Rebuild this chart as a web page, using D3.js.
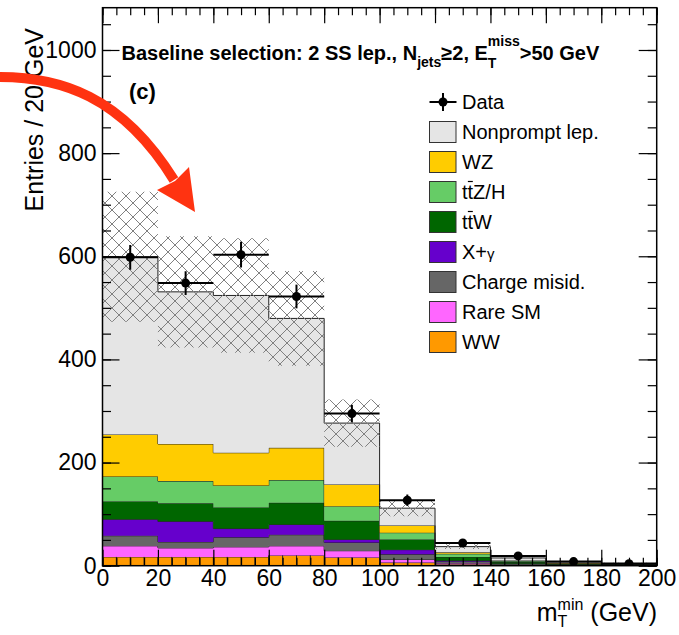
<!DOCTYPE html>
<html>
<head>
<meta charset="utf-8">
<script src="https://cdn.jsdelivr.net/npm/d3@7/dist/d3.min.js"></script>
<style>
  body { margin: 0; background: #fff; }
  svg { display: block; }
  text { font-family: "Liberation Sans", Arial, Helvetica, sans-serif; fill: #000; }
</style>
</head>
<body>
<div id="chart"></div>
<script>
// bin edges of m_T^min (GeV)
const edges = [0, 20, 40, 60, 80, 100, 120, 140, 160, 180, 200]

// stacked backgrounds, bottom to top (entries per bin)
const ww        = [17, 17, 17, 20, 16, 6, 3, 1.5, 1, 0.7]
const rareSM    = [21.5, 17.5, 19.5, 18.5, 13, 6, 2, 1, 0.5, 0.3]
const qmisid    = [19.5, 11.5, 18.5, 21.5, 16, 10, 3, 1.5, 0.5, 0.5]
const xGamma    = [32, 40, 17, 20, 6, 9, 2, 0.5, 0.3, 0.2]
const ttW       = [34.5, 35, 41, 42, 36, 20, 7, 2.5, 1, 0.8]
const ttZH      = [48.5, 43, 42.5, 44, 28.5, 13, 6, 2, 1, 0.6]
const wz        = [81.5, 72, 63.5, 62.5, 42, 14, 3, 1, 0.7, 0.4]
const nonprompt = [344.5, 295, 305, 251, 119, 33.5, 11, 5, 2, 1.5]

// total background uncertainty (+/-)
const totErr = [126, 108, 111, 92, 46, 15.5, 4.5, 2, 1, 1]

// observed data and its error
const dataVals = [598, 548, 603, 522, 295, 127, 44, 19, 8, 4]
const dataErr  = [24, 23, 25, 23, 17, 11, 7, 4, 3, 2]

const yTicks = [0, 200, 400, 600, 800, 1000]
const xTicks = [0, 20, 40, 60, 80, 100, 120, 140, 160, 180, 200]

const procKeys   = ['WW', 'Rare SM', 'Charge misid.', 'X+γ', 'ttW', 'ttZ/H', 'WZ', 'Nonprompt lep.']
const procVals   = [ww, rareSM, qmisid, xGamma, ttW, ttZH, wz, nonprompt]
const procColors = ['#ff9900', '#ff66ff', '#666666', '#6600cc', '#006600', '#66cc66', '#ffcc00', '#e5e5e5']

const legendKeys = ['Nonprompt lep.', 'WZ', 'ttZ/H', 'ttW', 'X+γ', 'Charge misid.', 'Rare SM', 'WW']

const W = 679, H = 635
const svg = d3.select('#chart').append('svg').attr('width', W).attr('height', H)

const x = d3.scaleLinear().domain([0, 200]).range([102.5, 656.7])
const y = d3.scaleLinear().domain([0, 1082]).range([565.7, 7.7])

const defs = svg.append('defs')
defs.append('clipPath').attr('id', 'plotclip')
  .append('rect').attr('x', x(0)).attr('y', y(1082)).attr('width', x(200) - x(0)).attr('height', y(0) - y(1082))

const hp = 14
const pat = defs.append('pattern').attr('id', 'hatch').attr('patternUnits', 'userSpaceOnUse')
  .attr('width', hp).attr('height', hp)
pat.append('path').attr('d', `M0,0L${hp},${hp}M${hp},0L0,${hp}M-1,${hp - 1}L1,${hp + 1}M${hp - 1},-1L${hp + 1},1M-1,1L1,-1M${hp - 1},${hp + 1}L${hp + 1},${hp - 1}`)
  .attr('stroke', '#808080').attr('stroke-width', 1).attr('fill', 'none')

// table for the stack
const rows = edges.slice(0, -1).map((e, i) => {
  const r = { lo: e, hi: edges[i + 1] }
  procKeys.forEach((k, j) => { r[k] = procVals[j][i] })
  return r
})
const stacked = d3.stack().keys(procKeys)(rows)

function steps(lo, hi) {
  const pts = []
  rows.forEach((r, i) => {
    pts.push({ x: r.lo, y0: lo[i], y1: hi[i] })
    pts.push({ x: r.hi, y0: lo[i], y1: hi[i] })
  })
  return pts
}
const area = d3.area().x(d => x(d.x)).y0(d => y(d.y0)).y1(d => y(d.y1))
const topLine = d3.line().x(d => x(d.x)).y(d => y(d.y1))

const plot = svg.append('g').attr('clip-path', 'url(#plotclip)')

stacked.forEach((s, j) => {
  const pts = steps(s.map(d => d[0]), s.map(d => d[1]))
  plot.append('path').attr('d', area(pts)).attr('fill', procColors[j])
  plot.append('path').attr('d', topLine(pts)).attr('fill', 'none')
    .attr('stroke', '#222').attr('stroke-width', 1)
})

// WW drawn in finer cells
const wwTop = stacked[0]
plot.append('g').selectAll('line').data(x.ticks(40).filter(v => v > 0 && v < 200)).join('line')
  .attr('x1', v => x(v)).attr('x2', v => x(v))
  .attr('y1', y(0))
  .attr('y2', v => y(wwTop[Math.min(9, Math.floor(v / 20))][1]))
  .attr('stroke', '#222').attr('stroke-width', 1)

// uncertainty band
const totals = stacked[stacked.length - 1].map(d => d[1])
plot.append('path')
  .attr('d', area(steps(totals.map((t, i) => t - totErr[i]), totals.map((t, i) => t + totErr[i]))))
  .attr('fill', 'url(#hatch)')

// data points
const dg = plot.append('g')
rows.forEach((r, i) => {
  const cx = x((r.lo + r.hi) / 2), cy = y(dataVals[i])
  dg.append('line').attr('x1', x(r.lo)).attr('x2', x(r.hi)).attr('y1', cy).attr('y2', cy)
    .attr('stroke', '#000').attr('stroke-width', 2)
  dg.append('line').attr('x1', cx).attr('x2', cx)
    .attr('y1', y(dataVals[i] - dataErr[i])).attr('y2', y(dataVals[i] + dataErr[i]))
    .attr('stroke', '#000').attr('stroke-width', 2)
  dg.append('circle').attr('cx', cx).attr('cy', cy).attr('r', 4.5).attr('fill', '#000')
})

// axes, ROOT style ticks pointing inwards
function styleAxis(g) {
  g.select('.domain').remove()
  g.selectAll('line').attr('stroke', '#000').attr('stroke-width', 1.2)
  g.selectAll('text').attr('font-size', 23).attr('fill', '#000')
    .attr('font-family', '"Liberation Sans", Arial, Helvetica, sans-serif')
}
const minorY = y.ticks(20), minorX = x.ticks(40)

svg.append('g').attr('transform', `translate(${x(0)},0)`)
  .call(d3.axisLeft(y).tickValues(minorY).tickSize(-8.5).tickFormat('')).call(styleAxis)
svg.append('g').attr('transform', `translate(${x(0)},0)`)
  .call(d3.axisLeft(y).tickValues(yTicks).tickSize(-17).tickPadding(6).tickFormat(d3.format('d'))).call(styleAxis)
svg.append('g').attr('transform', `translate(${x(200)},0)`)
  .call(d3.axisRight(y).tickValues(minorY).tickSize(-9).tickFormat('')).call(styleAxis)
svg.append('g').attr('transform', `translate(${x(200)},0)`)
  .call(d3.axisRight(y).tickValues(yTicks).tickSize(-18).tickFormat('')).call(styleAxis)

svg.append('g').attr('transform', `translate(0,${y(0)})`)
  .call(d3.axisBottom(x).tickValues(minorX).tickSize(-8).tickFormat('')).call(styleAxis)
svg.append('g').attr('transform', `translate(0,${y(0)})`)
  .call(d3.axisBottom(x).tickValues(xTicks).tickSize(-16).tickPadding(4).tickFormat(d3.format('d'))).call(styleAxis)
svg.append('g').attr('transform', `translate(0,${y(1082)})`)
  .call(d3.axisTop(x).tickValues(minorX).tickSize(-7.5).tickFormat('')).call(styleAxis)
svg.append('g').attr('transform', `translate(0,${y(1082)})`)
  .call(d3.axisTop(x).tickValues(xTicks).tickSize(-15.5).tickFormat('')).call(styleAxis)

svg.append('rect').attr('x', x(0)).attr('y', y(1082)).attr('width', x(200) - x(0)).attr('height', y(0) - y(1082))
  .attr('fill', 'none').attr('stroke', '#000').attr('stroke-width', 1.5)

// text with sub/superscripts laid out piece by piece
function rich(parent, px, py, parts, align) {
  const g = parent.append('g')
  let cx = 0, prevStart = 0, prevEnd = 0
  parts.forEach(p => {
    const start = p.stack ? prevStart : cx
    const t = g.append('text').attr('x', start).attr('y', p.dy || 0)
      .attr('font-size', p.size).attr('font-weight', p.weight || 'normal').text(p.t)
    const w = t.node().getComputedTextLength()
    const end = start + w
    if (p.stack) { cx = Math.max(prevEnd, end); prevEnd = cx }
    else { cx = end; prevEnd = end }
    prevStart = start
  })
  g.attr('transform', `translate(${align === 'end' ? px - cx : px},${py})`)
  return g
}

// header
const hb = 'bold'
rich(svg, 121.5, 60, [
  { t: 'Baseline selection: 2 SS lep., N', size: 20, weight: hb },
  { t: 'jets', size: 14, dy: 7, weight: hb },
  { t: '≥2, E', size: 20, weight: hb },
  { t: 'miss', size: 14, dy: -14, weight: hb },
  { t: 'T', size: 14, dy: 8, weight: hb, stack: true },
  { t: '>50 GeV', size: 20, weight: hb }
])
svg.append('text').attr('x', 129).attr('y', 99).attr('font-size', 22).attr('font-weight', 'bold').text('(c)')

// axis titles
svg.append('text').attr('transform', 'translate(43,28) rotate(-90)').attr('text-anchor', 'end')
  .attr('font-size', 25).text('Entries / 20 GeV')
rich(svg, 657, 621, [
  { t: 'm', size: 25 },
  { t: 'min', size: 16, dy: -11 },
  { t: 'T', size: 16, dy: 6, stack: true },
  { t: '\u00a0(GeV)', size: 25 }
], 'end')

// legend
const leg = svg.append('g')
const lx = 429.5, ly0 = 102, lstep = 30
leg.append('line').attr('x1', lx).attr('x2', lx + 27).attr('y1', ly0).attr('y2', ly0).attr('stroke', '#000').attr('stroke-width', 2)
leg.append('line').attr('x1', lx + 13.5).attr('x2', lx + 13.5).attr('y1', ly0 - 9).attr('y2', ly0 + 9).attr('stroke', '#000').attr('stroke-width', 2)
leg.append('circle').attr('cx', lx + 13.5).attr('cy', ly0).attr('r', 4.5).attr('fill', '#000')
leg.append('text').attr('x', 462).attr('y', ly0).attr('dy', '0.36em').attr('font-size', 20).text('Data')

legendKeys.forEach((k, i) => {
  const cy = ly0 + (i + 1) * lstep
  const col = procColors[procKeys.indexOf(k)]
  leg.append('rect').attr('x', lx).attr('y', cy - 10.5).attr('width', 26.5).attr('height', 21)
    .attr('fill', col).attr('stroke', '#333').attr('stroke-width', 1)
  const t = leg.append('text').attr('x', 462).attr('y', cy).attr('dy', '0.36em').attr('font-size', 20)
  if (k === 'X+γ') {
    t.append('tspan').text('X+')
    t.append('tspan').attr('font-size', 15).text('γ')
  } else {
    t.text(k)
  }
  if (k.startsWith('tt')) {
    // bar over the second t
    const n = t.node()
    const a = n.getSubStringLength(0, 1), b = n.getSubStringLength(0, 2)
    leg.append('line').attr('x1', 462 + a + 0.3).attr('x2', 462 + b - 0.3)
      .attr('y1', cy - 10.5).attr('y2', cy - 10.5).attr('stroke', '#000').attr('stroke-width', 1.2)
  }
})

// red annotation arrow
const arrow = svg.append('g')
arrow.append('path').attr('d', 'M-5,77 C60,76 122,96 174,180')
  .attr('fill', 'none').attr('stroke', '#ff3311').attr('stroke-width', 10)
arrow.append('path').attr('d', 'M195,212 L157,190 L175,181 L189,167 Z').attr('fill', '#ff3311')
</script>
</body>
</html>
